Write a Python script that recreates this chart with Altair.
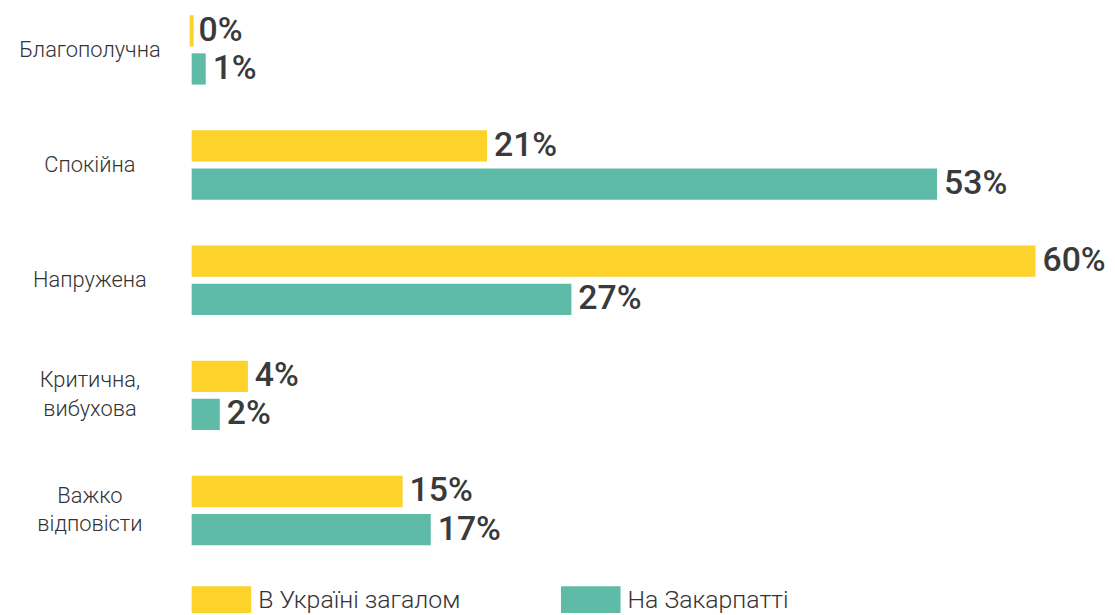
import altair as alt
import pandas as pd

categories = ["Благополучна", "Спокійна", "Напружена", "Критична,|вибухова", "Важко|відповісти"]
series = ["В Україні загалом", "На Закарпатті"]
ukraine = [0, 21, 60, 4, 15]
zakarpattia = [1, 53, 27, 2, 17]
colors = ["#FDD22B", "#5DBBA8"]

rows = []
for c, u, z in zip(categories, ukraine, zakarpattia):
    rows.append({"cat": c, "series": series[0], "value": u})
    rows.append({"cat": c, "series": series[1], "value": z})
df = pd.DataFrame(rows)

label_font = "Roboto"
value_font = "Roboto"

y_enc = alt.Y("cat:N", sort=categories,
              scale=alt.Scale(paddingInner=0.397, paddingOuter=0),
              axis=alt.Axis(title=None, domain=False, ticks=False, tickSize=0,
                            labelAlign="center", labelPadding=103,
                            labelFont=label_font, labelFontWeight=300,
                            labelFontSize=22, labelColor="#333333",
                            labelLineHeight=29,
                            labelOffset={"condition": {"test": "length(split(datum.label, '|')) > 1",
                                                       "value": -15}, "value": 0},
                            labelExpr="split(datum.label, '|')"))
yoff = alt.YOffset("series:N", sort=series, scale=alt.Scale(paddingInner=0.18))

base = alt.Chart(df).encode(y=y_enc, yOffset=yoff)

bars = base.mark_bar(stroke=colors[0]).encode(
    x=alt.X("value:Q", scale=alt.Scale(domain=[0, 60], nice=False, zero=True), axis=None),
    color=alt.Color("series:N", sort=series,
                    scale=alt.Scale(domain=series, range=colors),
                    legend=alt.Legend(title=None, orient="none", legendX=0, legendY=559,
                                      direction="horizontal", columns=2,
                                      symbolType="M-1,-0.47H1V0.47H-1Z",
                                      symbolSize=3600, symbolStrokeWidth=0,
                                      symbolOpacity=1,
                                      labelFont=label_font, labelFontWeight=300,
                                      labelFontSize=25, labelColor="#333333",
                                      labelLimit=400,
                                      labelOffset=7, columnPadding=101)),
    strokeWidth=alt.condition("datum.value == 0", alt.value(4), alt.value(0)),
)

texts = base.mark_text(align="left", baseline="middle", dx=7, font=value_font,
                       fontSize=34, fontWeight=500, color="#3a3a3a").encode(
    x=alt.X("value:Q"),
    text=alt.Text("label:N"),
).transform_calculate(label="datum.value + '%'")

chart = alt.layer(bars, texts).properties(
    width=850, height=534,
    autosize=alt.AutoSizeParams(type="none"),
    padding={"left": 185, "top": 5, "right": 72, "bottom": 66},
).configure_view(stroke=None)

chart.save("out.html", embed_options={"renderer": "svg", "actions": False})
